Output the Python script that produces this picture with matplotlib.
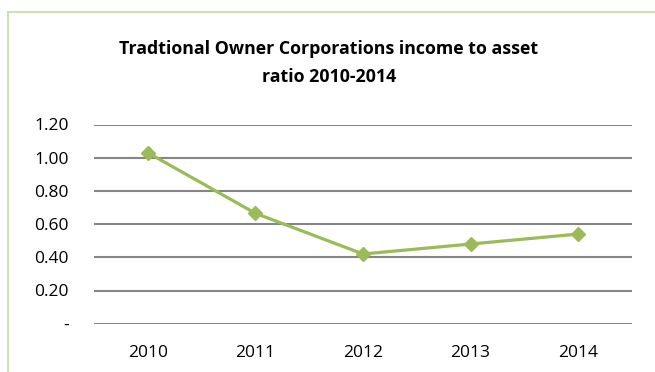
import matplotlib
matplotlib.use("Agg")
import matplotlib.pyplot as plt
from matplotlib.lines import Line2D

years = ["2010", "2011", "2012", "2013", "2014"]
ratio = [1.03, 0.665, 0.42, 0.48, 0.54]
y_ticks = [0.0, 0.2, 0.4, 0.6, 0.8, 1.0, 1.2]
y_tick_labels = ["-", "0.20", "0.40", "0.60", "0.80", "1.00", "1.20"]
title = "Tradtional Owner Corporations income to asset\nratio 2010-2014"

plt.rcParams["font.family"] = ["Open Sans", "DejaVu Sans"]

fig = plt.figure(figsize=(6.55, 3.72), dpi=100)
ax = fig.add_axes([94 / 655, 48.3 / 372, 538 / 655, 199.2 / 372])

x = list(range(len(years)))
ax.plot(x, ratio, color="#9bbb59", lw=2.3, marker="D", ms=7.5,
        markeredgecolor="#9bbb59", markerfacecolor="#9bbb59", zorder=3)

ax.set_xlim(-0.5, len(years) - 0.5)
ax.set_ylim(0, 1.2)
ax.set_yticks(y_ticks)
ax.set_yticklabels(y_tick_labels)
ax.set_xticks(x)
ax.set_xticklabels(years)
ax.tick_params(axis="both", length=0, labelsize=12.5, colors="#000000")
ax.tick_params(axis="y", pad=18)
ax.tick_params(axis="x", pad=15)
ax.yaxis.grid(True, color="#858585", lw=1.5)
ax.set_axisbelow(True)
for s in ax.spines.values():
    s.set_visible(False)

fig.text(329 / 655, 1 - 63 / 372, title, ha="center", va="center",
         fontsize=12.8, fontweight="bold", linespacing=1.75)

# chart frame (top and left edges)
frame_color = "#c3dea0"
fig.add_artist(Line2D([8 / 655, 1.0], [1 - 12 / 372] * 2, color=frame_color,
                      lw=1.2, transform=fig.transFigure))
fig.add_artist(Line2D([8 / 655] * 2, [0.0, 1 - 12 / 372], color=frame_color,
                      lw=1.2, transform=fig.transFigure))

fig.savefig("out.png", dpi=100)
